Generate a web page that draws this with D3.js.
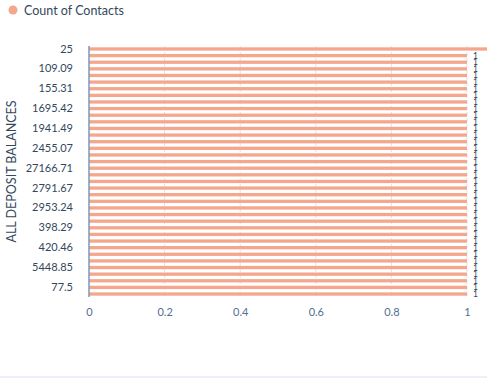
<!DOCTYPE html>
<html>
<head>
<meta charset="utf-8">
<script src="https://cdn.jsdelivr.net/npm/d3@7"></script>
<style>
  body { margin: 0; background: #fff; }
  svg { display: block; font-family: Lato, "Open Sans", sans-serif; }
</style>
</head>
<body>
<div class="canvas"></div>
<script>
// data: deposit balance buckets and their contact counts
const balances = [
  "25", "1000.12", "104.5", "109.09", "1200.83", "143.6", "155.31", "1580.6",
  "1627.05", "1695.42", "1788.2", "18.5", "1941.49", "2000.3", "2210.76", "2455.07",
  "2500", "2637.11", "27166.71", "2750.45", "278.9", "2791.67", "2845.3", "29.85",
  "2953.24", "3100.62", "352.14", "398.29", "4.75", "410.8", "420.46", "4876.2",
  "502.33", "5448.85", "605.1", "7200.5", "77.5", "890.64"
];
const counts = [
  2, 1, 1, 1, 1, 1, 1, 1, 1, 1, 1, 1, 1, 1, 1, 1, 1, 1, 1,
  1, 1, 1, 1, 1, 1, 1, 1, 1, 1, 1, 1, 1, 1, 1, 1, 1, 1, 1
];
const xTicks = [0, 0.2, 0.4, 0.6, 0.8, 1];
const seriesName = "Count of Contacts";
const axisTitle = "ALL DEPOSIT BALANCES";

// margins and dimensions
const w = 487;
const h = 378;
const margin = { top: 46, right: 20, bottom: 81, left: 89 };
const graphWidth = 467 - margin.left;
const graphHeight = h - margin.top - margin.bottom;

const barColor = "#f4a78d";
const textColor = "#33475b";

const svg = d3.select(".canvas").append("svg").attr("width", w).attr("height", h);

// legend
svg.append("circle").attr("cx", 13).attr("cy", 10).attr("r", 4.5).attr("fill", barColor);
svg.append("text")
  .attr("x", 24).attr("y", 14.5)
  .attr("font-size", 12.5)
  .attr("fill", textColor)
  .text(seriesName);

const graph = svg.append("g")
  .attr("transform", `translate(${margin.left}, ${margin.top})`);

const xScale = d3.scaleLinear().domain([0, 1]).range([0, graphWidth]);
const yScale = d3.scaleBand().domain(balances).range([0, graphHeight]).paddingInner(0.5).paddingOuter(0.2);

// vertical grid lines
graph.selectAll("line.grid")
  .data(xTicks.slice(1))
  .enter()
  .append("line")
  .attr("class", "grid")
  .attr("x1", d => xScale(d)).attr("x2", d => xScale(d))
  .attr("y1", 0).attr("y2", graphHeight)
  .attr("stroke", "#dfe3eb")
  .attr("stroke-dasharray", "4,2");

// bars
const rows = balances.map((b, i) => ({ b, v: counts[i] }));
graph.selectAll("rect")
  .data(rows)
  .enter()
  .append("rect")
  .attr("x", 0)
  .attr("y", d => yScale(d.b))
  .attr("width", d => xScale(d.v))
  .attr("height", yScale.bandwidth())
  .attr("fill", barColor);

// value labels (packed tightly, like the original)
graph.selectAll("text.val")
  .data(rows)
  .enter()
  .append("text")
  .attr("class", "val")
  .attr("x", d => xScale(d.v) + 6)
  .attr("y", d => yScale(d.b) + yScale.bandwidth() / 2 + 3)
  .attr("font-size", 8.5)
  .attr("fill", textColor)
  .text(d => d.v);

// x-axis
const xAxis = d3.axisBottom(xScale).tickValues(xTicks).tickFormat(d3.format("")).tickSize(0).tickPadding(11);
graph.append("g")
  .attr("transform", `translate(0, ${graphHeight})`)
  .call(xAxis)
  .call(g => g.select(".domain").remove())
  .call(g => g.selectAll("text").attr("font-size", 11).attr("fill", "#516f90").attr("font-family", "Lato, sans-serif"));

// y-axis
const yAxis = d3.axisLeft(yScale)
  .tickValues(balances.filter((d, i) => i % 3 === 0))
  .tickSize(0).tickPadding(16);
graph.append("g")
  .call(yAxis)
  .call(g => g.select(".domain").attr("stroke", "#7c98b6").attr("stroke-width", 1.5).attr("d", `M0,0V${graphHeight}`))
  .call(g => g.selectAll("text").attr("font-size", 11).attr("fill", textColor).attr("font-family", "Lato, sans-serif"));

// y-axis title
svg.append("text")
  .attr("transform", `translate(16, ${margin.top + graphHeight / 2}) rotate(-90)`)
  .attr("text-anchor", "middle")
  .attr("font-size", 12.5)
  .attr("fill", textColor)
  .text(axisTitle);

// bottom band
svg.append("rect").attr("x", 0).attr("y", 376).attr("width", w).attr("height", 2).attr("fill", "#eaf0f6");
</script>
</body>
</html>
